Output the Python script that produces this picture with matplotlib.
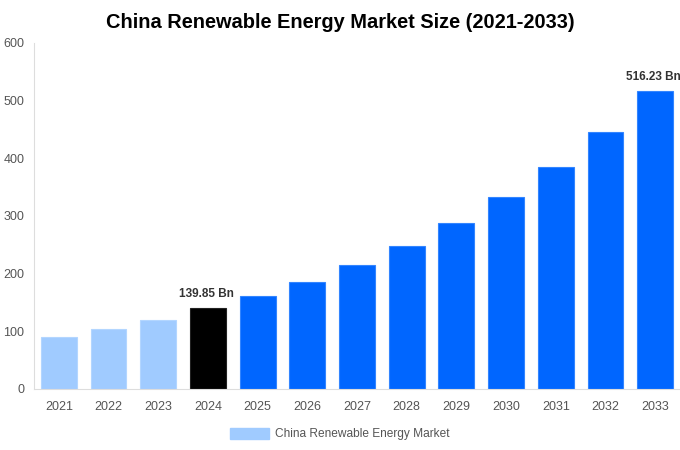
import matplotlib.pyplot as plt

years = ['2021', '2022', '2023', '2024', '2025', '2026', '2027',
         '2028', '2029', '2030', '2031', '2032', '2033']
values = [90.2, 104.0, 119.5, 139.85, 161.0, 185.5, 215.0,
          248.0, 288.0, 333.0, 385.0, 445.5, 516.23]
colors = ['#a0cbff'] * 3 + ['#000000'] + ['#0066ff'] * 9
edges = ['#b3d6ff'] * 3 + ['#222222'] + ['#3385ff'] * 9
labelled = {3: '139.85 Bn', 12: '516.23 Bn'}

plt.rcParams['font.family'] = ['Liberation Sans', 'DejaVu Sans']

fig = plt.figure(figsize=(6.8, 4.5), dpi=100)
ax = fig.add_axes([0.05, 0.1356, 0.95, 0.7689])

x = list(range(len(years)))
ax.bar(x, values, width=0.72, color=colors, edgecolor=edges, linewidth=0.8,
       label='China Renewable Energy Market')

for i, txt in labelled.items():
    ax.annotate(txt, xy=(x[i], values[i]), xytext=(-1, 6), textcoords='offset points',
                ha='center', va='bottom', fontsize=8.5, fontweight='bold', color='#333333',
                annotation_clip=False)

ax.set_xlim(-0.5, len(years) - 0.5)
ax.set_ylim(0, 600)
ax.set_yticks([0, 100, 200, 300, 400, 500, 600])
ax.set_xticks(x)
ax.set_xticklabels(years)
ax.tick_params(axis='both', length=0, labelsize=9, colors='#555555')
ax.tick_params(axis='x', pad=9)
ax.tick_params(axis='y', pad=7)
for s in ['top', 'right']:
    ax.spines[s].set_visible(False)
for s in ['left', 'bottom']:
    ax.spines[s].set_color('#dddddd')
    ax.spines[s].set_linewidth(0.8)

fig.suptitle('China Renewable Energy Market Size (2021-2033)', x=0.5, y=0.972,
             fontsize=14.4, fontweight='bold', color='#000000')

leg = fig.legend(handles=[plt.Rectangle((0, 0), 1, 1, color='#a0cbff')],
                 labels=['China Renewable Energy Market'], loc='center',
                 bbox_to_anchor=(0.5, 0.035), frameon=False, fontsize=8.6,
                 handlelength=3.3, handleheight=1.0, handletextpad=0.5)
for t in leg.get_texts():
    t.set_color('#555555')

fig.savefig('out.png', dpi=100)
